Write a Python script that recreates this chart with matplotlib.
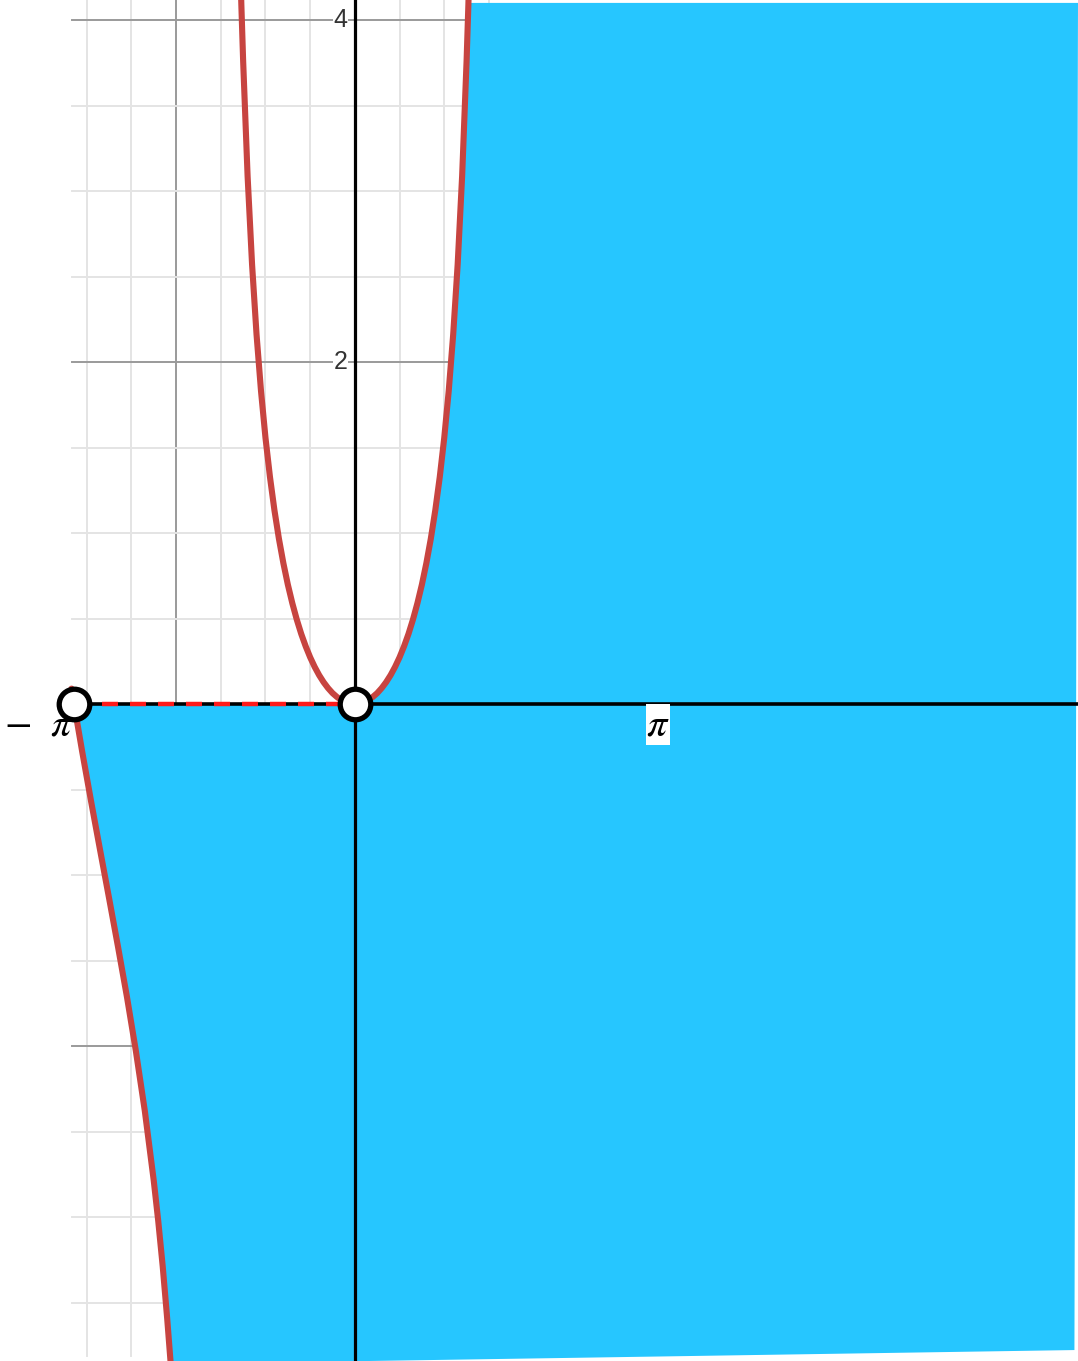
import numpy as np
import matplotlib
matplotlib.use("Agg")
import matplotlib.pyplot as plt

plt.rcParams['mathtext.fontset'] = 'stix'

# ==================== data ====================
# lower branch of y = x tan x, from -pi down to the bottom edge
LOW_X = [-3.17, -3.1416, -3.05, -2.95, -2.85, -2.75, -2.65, -2.55, -2.45,
         -2.35, -2.25, -2.20, -2.15, -2.10, -2.06]
LOW_Y = [0.09, 0.0, -0.280, -0.572, -0.855, -1.135, -1.419, -1.712, -2.029,
         -2.379, -2.787, -3.022, -3.287, -3.591, -3.86]

# right half of the U-shaped branch (the left half is its mirror image)
U_XR = [0.0, 0.05, 0.1, 0.15, 0.2, 0.25, 0.3, 0.35, 0.4, 0.45, 0.5, 0.55,
        0.6, 0.65, 0.7, 0.75, 0.8, 0.85, 0.9, 0.95, 1.0, 1.05, 1.1, 1.15,
        1.2, 1.25, 1.27, 1.29]
U_YR = [0.0, 0.0025, 0.010, 0.0227, 0.041, 0.0638, 0.093, 0.1278, 0.169,
        0.2174, 0.273, 0.3372, 0.410, 0.4941, 0.590, 0.6987, 0.824, 0.9676,
        1.134, 1.3285, 1.557, 1.8305, 2.161, 2.570, 3.087, 3.762, 4.09, 4.47]

HOLES_X = [-np.pi, 0.0]
HOLES_Y = [0.0, 0.0]

Y_TICKS = [4, 2]
Y_TICK_LABELS = ['4', '2']

# ==================== figure ====================
fig = plt.figure(figsize=(10.78, 13.61), dpi=100)
ax = fig.add_axes([0, 0, 1, 1])
X0, X1 = -3.97, 8.09
Y0, Y1 = -3.842, 4.117
ax.set_xlim(X0, X1)
ax.set_ylim(Y0, Y1)
ax.axis('off')

# grid (cropped screenshot: starts at x=-3.17, ends just above the bottom)
gx0, gy0 = -3.17, -3.81
for gx in np.arange(-3.0, 1.6, 0.5):
    major = abs(gx % 2) < 1e-9
    ax.plot([gx, gx], [gy0, Y1], color='#9a9a9a' if major else '#e4e4e4',
            lw=1.4, zorder=1)
for gy in np.arange(-3.5, 4.1, 0.5):
    if abs(gy) < 1e-9:
        continue
    major = abs(gy % 2) < 1e-9
    ax.plot([gx0, 1.5], [gy, gy], color='#9a9a9a' if major else '#e4e4e4',
            lw=1.4, zorder=1)

# curve arrays
ux = np.concatenate([-np.array(U_XR[:0:-1]), U_XR])
uy = np.concatenate([np.array(U_YR[:0:-1]), U_YR])

# blue shaded region (hand drawn in the original)
low_x = np.array(LOW_X[1:])
low_y = np.array(LOW_Y[1:])
rx = np.array(U_XR)
ry = np.array(U_YR)
keep = rx <= 1.25
poly_x = np.concatenate([low_x, [8.05, 8.09, 1.27], rx[keep][::-1], [-np.pi]])
poly_y = np.concatenate([low_y, [-3.778, 4.10, 4.10], ry[keep][::-1], [0.0]])
ax.fill(poly_x, poly_y, color='#26c6ff', lw=0, zorder=2)

# axes lines
ax.plot([0, 0], [Y0, Y1], color='black', lw=2.3, zorder=3)
ax.plot([-np.pi, X1], [0, 0], color='black', lw=2.6, zorder=3)

# curve y = x tan x
ax.plot(LOW_X, LOW_Y, color='#c74440', lw=4.4, zorder=4, solid_capstyle='round')
ax.plot(ux, uy, color='#c74440', lw=4.4, zorder=4, solid_capstyle='round',
        solid_joinstyle='round')

# dashed segment between the holes
ax.plot(HOLES_X, HOLES_Y, color='#ff1a1a', lw=3.2, ls=(0, (3.6, 2.7)), zorder=5)

# open circles
ax.plot(HOLES_X, HOLES_Y, 'o', ms=22, mfc='white', mec='black', mew=3.8, zorder=6)

# tick labels
for yv, lab in zip(Y_TICKS, Y_TICK_LABELS):
    ax.text(-0.08, yv, lab, ha='right', va='center', fontsize=18,
            color='#333333', family='Liberation Sans', zorder=7,
            bbox=dict(facecolor='white', edgecolor='none', pad=0.5))

ax.text(-3.53, -0.12, r'$-\ \ \pi$', ha='center', va='center', fontsize=29,
        color='black', zorder=7)
ax.text(3.39, -0.12, r'$\pi$', ha='center', va='center', fontsize=29,
        color='black', zorder=7,
        bbox=dict(facecolor='white', edgecolor='none', pad=0.3))

plt.savefig('out.png', dpi=100)
plt.close()
